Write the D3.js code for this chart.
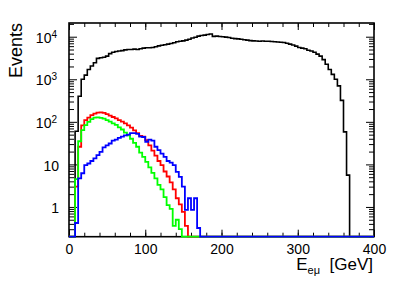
<!DOCTYPE html>
<html>
<head>
<meta charset="utf-8">
<script src="https://cdn.jsdelivr.net/npm/d3@7"></script>
<style>
body { margin: 0; background: #fff; }
svg { display: block; font-family: "Liberation Sans", Arial, sans-serif; }
</style>
</head>
<body>
<div id="chart"></div>
<script>
// 100 bins of 4 GeV between 0 and 400
const binEdges = d3.range(0, 404, 4);

const allEvents = [
    0, 0, 60, 400, 1000, 1250, 1700, 2050, 2450, 3100,
    3200, 3300, 3500, 4000, 4300, 4500, 4600, 4700, 4900, 5000,
    5000, 5100, 5000, 5200, 5400, 5500, 5500, 5600, 5800, 6100,
    6300, 6500, 6700, 6900, 7200, 7600, 7800, 8000, 8300, 8700,
    9300, 9700, 10300, 10700, 10900, 11300, 11600, 10200, 10300, 10100,
    10000, 9800, 9600, 9200, 9000, 8900, 8700, 8500, 8300, 8100,
    8000, 7900, 7800, 7900, 7800, 7800, 7700, 7600, 7500, 7400,
    7300, 7000, 6700, 6400, 6000, 5600, 5400, 5200, 4800, 4600,
    4300, 3900, 3500, 2900, 2250, 1700, 1300, 1000, 700, 320,
    58, 5.6, 0, 0, 0, 0, 0, 0, 0, 0
];
const redEvents = [
    0, 0, 3, 26, 83, 110, 126, 143, 156, 164,
    167, 162, 152, 140, 130, 120, 110, 101, 92, 83,
    73, 63, 54, 47, 45, 37, 28, 21, 16, 12,
    9.6, 6.8, 5.2, 3.8, 2.6, 1.6, 1.15, 0.77, 0.36, 0
];
const greenEvents = [
    0, 0, 4.5, 35, 64, 84, 100, 116, 125, 127,
    124, 119, 110, 101, 92, 85, 74, 66, 56, 48,
    40, 32, 26, 19, 15, 11.5, 8.5, 6.3, 4.7, 3.3,
    2.6, 1.7, 1.1, 0.9, 0.36, 0.5, 0.3, 0
];
const blueEvents = [
    0, 0, 0.42, 4.7, 6.2, 9.6, 10.5, 12, 13.9, 16.6,
    19.7, 25, 28, 31, 36, 38, 42, 45, 48, 50,
    54, 54, 52, 45, 44, 34, 38, 36, 26, 21.6,
    18, 15, 12, 11, 9.6, 6.7, 5.1, 3, 0.85, 1.6,
    0.85, 1.6, 0.32, 0
];

const xMajorTicks = [0, 100, 200, 300, 400];
const xMinorTicks = d3.range(0, 420, 20);
const yMajorTicks = [1, 10, 100, 1000, 10000];
const yTickLabels = ['1', '10', '10^2', '10^3', '10^4'];
const yMinorTicks = [1, 10, 100, 1000, 10000, 0.1]
    .flatMap(d => d3.range(2, 10).map(m => m * d))
    .filter(v => v >= 0.2 && v <= 21000);

const width = 407;
const height = 289;
const frame = { left: 69, top: 23, right: 374, bottom: 236.7 };
const font = '"Liberation Sans", Arial, sans-serif';

const svg = d3.select('#chart').append('svg')
    .attr('width', width)
    .attr('height', height);

svg.append('rect')
    .attr('width', width)
    .attr('height', height)
    .style('fill', '#fff');

const x = d3.scaleLinear().domain([0, 400]).range([frame.left, frame.right]);
const y = d3.scaleLog().domain([0.2, 21000]).range([frame.bottom, frame.top]).clamp(true);

function stepPoints(values) {
    const pts = [[0, 0]];
    binEdges.slice(0, -1).forEach((lo, i) => {
        const v = values[i] || 0;
        pts.push([lo, v]);
        pts.push([binEdges[i + 1], v]);
    });
    pts.push([400, 0]);
    return pts;
}

const line = d3.line()
    .x(d => x(d[0]))
    .y(d => d[1] > 0 ? y(d[1]) : frame.bottom);

function drawHist(values, color, w) {
    svg.append('path')
        .attr('d', line(stepPoints(values)))
        .style('fill', 'none')
        .style('stroke', color)
        .style('stroke-width', w)
        .style('stroke-linejoin', 'miter');
}

function styleAxis(g) {
    g.select('.domain').remove();
    g.selectAll('line').style('stroke', '#000').style('stroke-width', 1);
    g.selectAll('text')
        .style('font-family', font)
        .style('font-size', '14px')
        .style('fill', '#000');
}

// first histogram, then the axes on top of it, as ROOT does
drawHist(allEvents, '#000', 1.6);

// frame
svg.append('rect')
    .attr('x', frame.left)
    .attr('y', frame.top)
    .attr('width', frame.right - frame.left)
    .attr('height', frame.bottom - frame.top)
    .style('fill', 'none')
    .style('stroke', '#000')
    .style('stroke-width', 1.6);

// x axes
svg.append('g')
    .attr('transform', `translate(0,${frame.bottom})`)
    .call(d3.axisBottom(x).tickValues(xMinorTicks).tickSize(-4).tickFormat(''))
    .call(styleAxis);
svg.append('g')
    .attr('transform', `translate(0,${frame.bottom})`)
    .call(d3.axisBottom(x).tickValues(xMajorTicks).tickSize(-7).tickPadding(7).tickFormat(d3.format('d')))
    .call(styleAxis);
svg.append('g')
    .attr('transform', `translate(0,${frame.top})`)
    .call(d3.axisTop(x).tickValues(xMinorTicks).tickSize(-4).tickFormat(''))
    .call(styleAxis);
svg.append('g')
    .attr('transform', `translate(0,${frame.top})`)
    .call(d3.axisTop(x).tickValues(xMajorTicks).tickSize(-7).tickFormat(''))
    .call(styleAxis);

// y axes
svg.append('g')
    .attr('transform', `translate(${frame.left},0)`)
    .call(d3.axisLeft(y).tickValues(yMinorTicks).tickSize(-5).tickFormat(''))
    .call(styleAxis);
const yAxisG = svg.append('g')
    .attr('transform', `translate(${frame.left},0)`)
    .call(d3.axisLeft(y).tickValues(yMajorTicks).tickSize(-8).tickPadding(10)
        .tickFormat((d, i) => yTickLabels[i]))
    .call(styleAxis);
yAxisG.selectAll('text')
    .attr('dy', '0.4em')
    .each(function () {
        const label = d3.select(this).text();
        if (label.indexOf('^') < 0) return;
        const parts = label.split('^');
        const t = d3.select(this).text(null).attr('x', -12);
        t.append('tspan').text(parts[0]);
        t.append('tspan')
            .attr('dy', '-0.5em')
            .style('font-size', '10px')
            .text(parts[1]);
    });
svg.append('g')
    .attr('transform', `translate(${frame.right},0)`)
    .call(d3.axisRight(y).tickValues(yMinorTicks).tickSize(-5).tickFormat(''))
    .call(styleAxis);
svg.append('g')
    .attr('transform', `translate(${frame.right},0)`)
    .call(d3.axisRight(y).tickValues(yMajorTicks).tickSize(-8).tickFormat(''))
    .call(styleAxis);

// overlaid histograms
drawHist(redEvents, '#ff0000', 1.8);
drawHist(greenEvents, '#00ff00', 1.8);
drawHist(blueEvents, '#0000ff', 1.8);

// axis titles
svg.append('text')
    .attr('transform', `translate(22,${frame.top}) rotate(-90)`)
    .attr('text-anchor', 'end')
    .style('font-family', font)
    .style('font-size', '18px')
    .text('Events');

const xTitle = svg.append('text')
    .attr('x', 373)
    .attr('y', 270)
    .attr('text-anchor', 'end')
    .style('font-family', font)
    .style('font-size', '17px');
xTitle.append('tspan').text('E');
xTitle.append('tspan')
    .attr('dy', 4)
    .style('font-size', '11px')
    .text('eμ');
xTitle.append('tspan')
    .attr('dy', -4)
    .text('\u00a0\u00a0[GeV]');
</script>
</body>
</html>
